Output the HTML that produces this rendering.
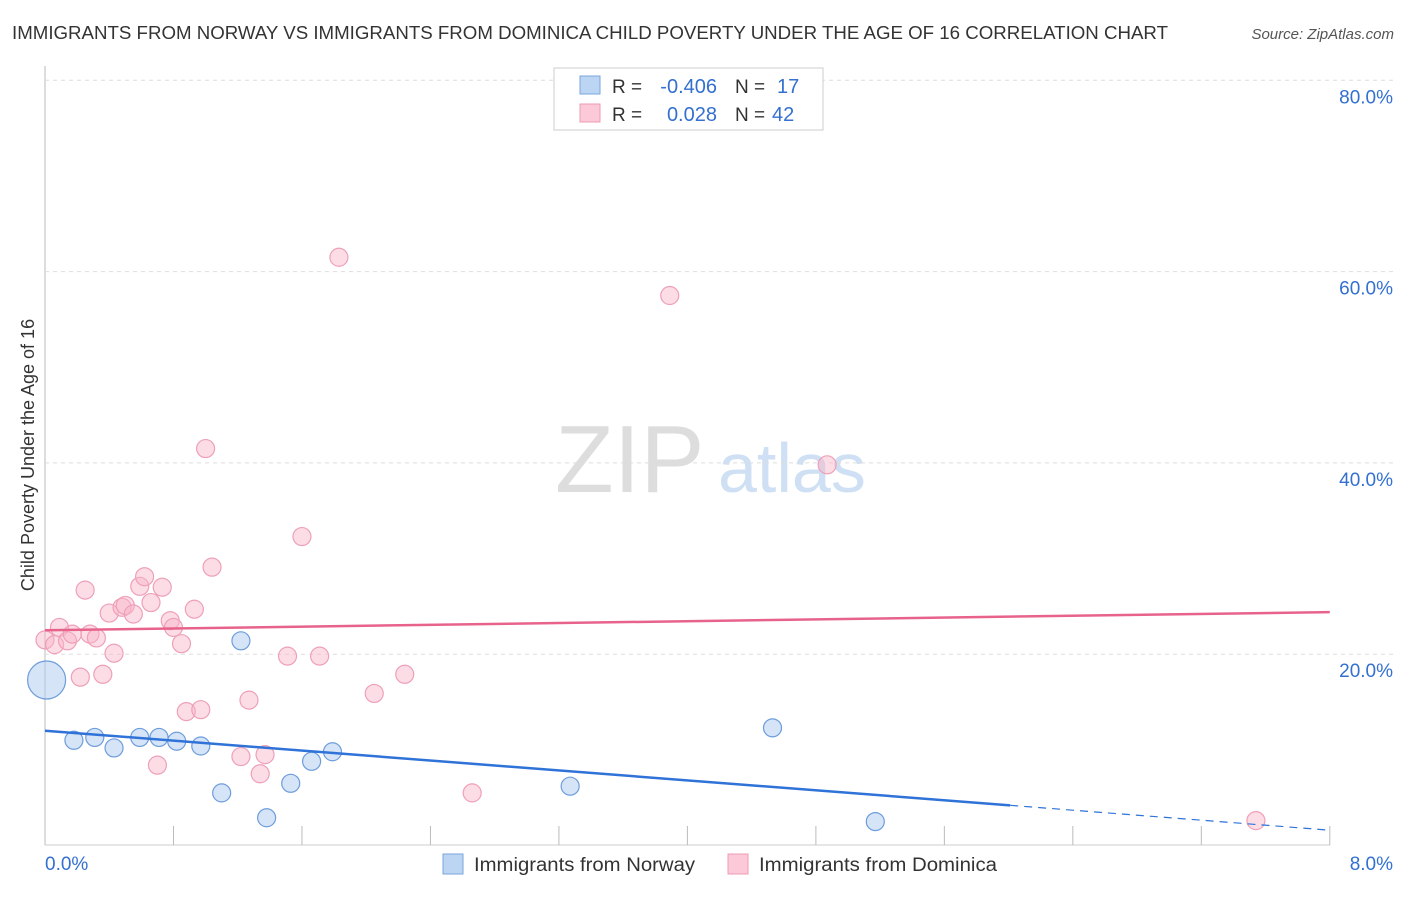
<!DOCTYPE html>
<html><head><meta charset="utf-8"><style>
body{margin:0;background:#fff;font-family:"Liberation Sans",sans-serif}
svg text{font-family:"Liberation Sans",sans-serif}
</style></head><body>
<svg id="c" width="1406" height="892">
<text x="12" y="39" font-size="18" fill="#333" textLength="1156" lengthAdjust="spacingAndGlyphs">IMMIGRANTS FROM NORWAY VS IMMIGRANTS FROM DOMINICA CHILD POVERTY UNDER THE AGE OF 16 CORRELATION CHART</text>
<text x="1394" y="39" font-size="15" fill="#555" font-style="italic" text-anchor="end">Source: ZipAtlas.com</text>
<text x="555" y="492" font-size="96" fill="#ddd" font-family="Liberation Serif">ZIP</text>
<text x="718" y="492" font-size="70" fill="#cfe0f5">atlas</text>
<text transform="translate(34,455) rotate(-90)" font-size="18" fill="#333" text-anchor="middle">Child Poverty Under the Age of 16</text>
<g id="grid"></g><g id="marks"></g>
<g>
<rect x="554" y="68" width="269" height="62" fill="#fff" stroke="#ccc"/>
<rect x="580" y="76" width="20" height="18" fill="#bcd5f3" stroke="#7aa6dc"/>
<rect x="580" y="104" width="20" height="18" fill="#fbc9d7" stroke="#ee9bb3"/>
<text x="612" y="93" font-size="19" fill="#333">R =</text>
<text x="717" y="93" font-size="20" fill="#3370d0" text-anchor="end">-0.406</text>
<text x="735" y="93" font-size="19" fill="#333">N =</text>
<text x="777" y="93" font-size="20" fill="#3370d0">17</text>
<text x="612" y="121" font-size="19" fill="#333">R =</text>
<text x="717" y="121" font-size="20" fill="#3370d0" text-anchor="end">0.028</text>
<text x="735" y="121" font-size="19" fill="#333">N =</text>
<text x="772" y="121" font-size="20" fill="#3370d0">42</text>
</g>
<g>
<rect x="443" y="854" width="20" height="20" fill="#bcd5f3" stroke="#7aa6dc"/>
<text x="474" y="871" font-size="19" fill="#333" textLength="221" lengthAdjust="spacingAndGlyphs">Immigrants from Norway</text>
<rect x="728" y="854" width="20" height="20" fill="#fbc9d7" stroke="#ee9bb3"/>
<text x="759" y="871" font-size="19" fill="#333" textLength="238" lengthAdjust="spacingAndGlyphs">Immigrants from Dominica</text>
</g>
</svg>
<script>
const xTicks=[0,0.8,1.6,2.4,3.2,4,4.8,5.6,6.4,7.2,8];
const yTicks=[20,40,60,80];
const norwayX=[0.01,0.18,0.31,0.43,0.59,0.71,0.82,0.97,1.10,1.22,1.38,1.53,1.66,1.79,3.27,4.53,5.17];
const norwayY=[17.3,11.0,11.3,10.2,11.3,11.3,10.9,10.4,5.5,21.4,2.9,6.5,8.8,9.8,6.2,12.3,2.5];
const domX=[0,0.06,0.09,0.14,0.17,0.22,0.25,0.28,0.32,0.36,0.40,0.43,0.48,0.50,0.55,0.59,0.62,0.66,0.73,0.78,0.80,0.85,0.88,0.93,0.97,1.00,1.04,1.22,1.27,1.34,1.37,1.51,1.60,1.71,1.83,2.05,2.24,2.66,3.89,4.87,7.54,0.70];
const domY=[21.5,21.0,22.8,21.4,22.1,17.6,26.7,22.1,21.7,17.9,24.3,20.1,24.9,25.1,24.2,27.1,28.1,25.4,27.0,23.5,22.8,21.1,14.0,24.7,14.2,41.5,29.1,9.3,15.2,7.5,9.5,19.8,32.3,19.8,61.5,15.9,17.9,5.5,57.5,39.8,2.6,8.4];
const pinkTrend=[22.5,24.4];
const blueTrend=[12.0,4.2,1.6];const blueSolidEnd=6.01;
const X=v=>45+v*160.6, Y=v=>845.5-v*9.565;
const NS='http://www.w3.org/2000/svg';
function mk(t,a,p){const e=document.createElementNS(NS,t);for(const k in a)e.setAttribute(k,a[k]);p.appendChild(e);return e;}
const g=document.getElementById('grid'),m=document.getElementById('marks');
mk('line',{x1:45,y1:66,x2:45,y2:845,stroke:'#bbb'},g);
mk('line',{x1:45,y1:845,x2:1330,y2:845,stroke:'#ccc'},g);
yTicks.forEach(v=>{const l=mk('line',{x1:45,y1:Y(v),x2:1395,y2:Y(v),stroke:'#ddd','stroke-dasharray':'4,4'},g);


const t=mk('text',{x:1393,y:Y(v)+23,'font-size':19,fill:'#3370d0','text-anchor':'end'},g);t.textContent=v.toFixed(1)+'%';

});
xTicks.forEach(v=>{if(v>0){const l=mk('line',{x1:X(v),y1:826,x2:X(v),y2:845,stroke:'#bbb'},g);

}});
[[0,'start',45],[8,'end',1393]].forEach(([v,a,x])=>{const t=mk('text',{x:x,y:870,'font-size':19,fill:'#3370d0','text-anchor':a},g);t.textContent=v.toFixed(1)+'%';

});
domX.forEach((x,i)=>{const c=mk('circle',{cx:X(x),cy:Y(domY[i]),r:9,fill:'rgba(248,180,200,0.45)',stroke:'#eea0b8','stroke-width':1.2},m);

});
norwayX.forEach((x,i)=>{const c=mk('circle',{cx:X(x),cy:Y(norwayY[i]),r:i==0?19:9,fill:'rgba(180,205,240,0.55)',stroke:'#6d9ddc','stroke-width':1.2},m);

});
let l=mk('line',{x1:X(0),y1:Y(pinkTrend[0]),x2:X(8),y2:Y(pinkTrend[1]),stroke:'#e8638c','stroke-width':2.5},m);


l=mk('line',{x1:X(0),y1:Y(blueTrend[0]),x2:X(blueSolidEnd),y2:Y(blueTrend[1]),stroke:'#2f72d8','stroke-width':2.5},m);


l=mk('line',{x1:X(blueSolidEnd),y1:Y(blueTrend[1]),x2:X(8),y2:Y(blueTrend[2]),stroke:'#2f72d8','stroke-width':1.2,'stroke-dasharray':'8,6'},m);


</script>
</body></html>
